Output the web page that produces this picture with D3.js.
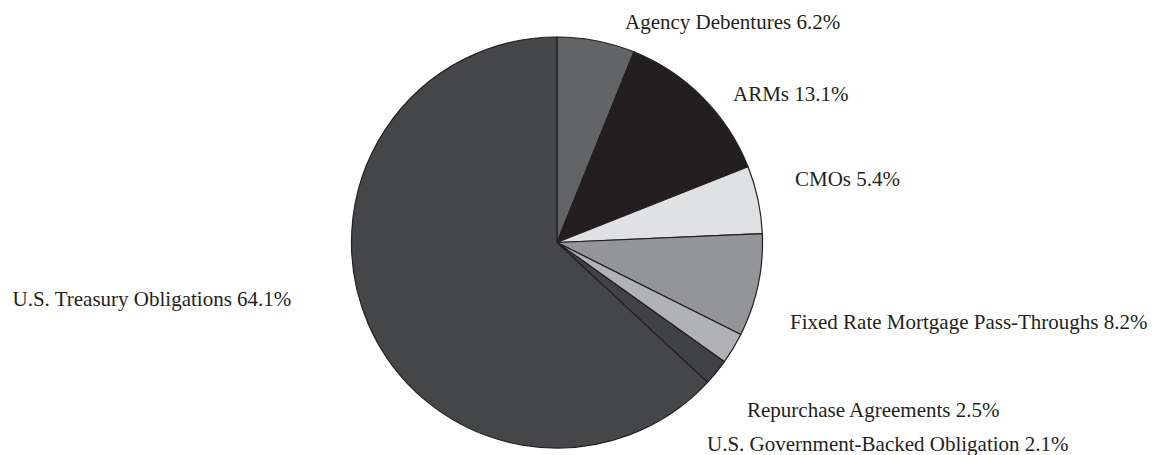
<!DOCTYPE html>
<html><head><meta charset="utf-8">
<script src="https://cdn.jsdelivr.net/npm/d3@7/dist/d3.min.js"></script>
<style>body{margin:0;background:#fff}svg{display:block}</style>
</head><body>
<svg id="chart" width="1154" height="455"></svg>
<script>
const categories = ["Agency Debentures","ARMs","CMOs","Fixed Rate Mortgage Pass-Throughs","Repurchase Agreements","U.S. Government-Backed Obligation","U.S. Treasury Obligations"];
const values = [6.2, 13.1, 5.4, 8.2, 2.5, 2.1, 64.1];
const colors = ["#636466","#231f20","#e0e1e2","#939598","#b0b2b4","#414244","#454648"];
// label anchor (start, baseline) positions
const labelPos = [[625,28.5],[733,100.5],[795,186],[790,328.5],[747,417],[707,450.5],[12.5,306]];

const svg = d3.select("#chart");
const cx = 557, cy = 242.5, r = 205.5;
const data = categories.map((c,i)=>({name:c, value:values[i], color:colors[i], lp:labelPos[i]}));
const pie = d3.pie().sort(null).value(d=>d.value);
const arc = d3.arc().innerRadius(0).outerRadius(r);
const g = svg.append("g").attr("transform",`translate(${cx},${cy})`);
g.selectAll("path").data(pie(data)).join("path")
  .attr("d",arc).attr("fill",d=>d.data.color)
  .attr("stroke","#231f20").attr("stroke-width",1.2).attr("stroke-linejoin","round");
svg.selectAll("text.lbl").data(data).join("text").attr("class","lbl")
  .attr("x",d=>d.lp[0]).attr("y",d=>d.lp[1])
  .attr("font-family","'Liberation Serif','Times New Roman',serif")
  .attr("font-size",21).attr("fill","#231f20")
  .text(d=>`${d.name} ${d.value.toFixed(1)}%`);
</script>
</body></html>
